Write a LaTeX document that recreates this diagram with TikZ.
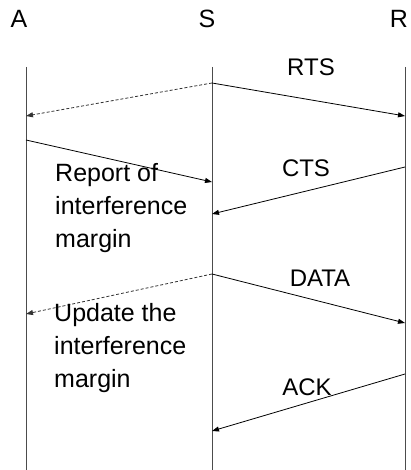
\documentclass[tikz,border=0pt]{standalone}
\usepackage{fontspec}
\setmainfont{Liberation Sans}
\usetikzlibrary{arrows.meta,positioning,calc}

\begin{document}
\begin{tikzpicture}[
  x=1pt, y=-1pt,
  >={Triangle[length=7pt,width=5pt]},
  lifeline/.style={line width=0.9pt, draw=black!70},
  msg/.style={->, line width=0.8pt, draw=black},
  overhear/.style={->, line width=0.8pt, draw=black!80, dash pattern=on 3pt off 2pt},
  station/.style={font=\fontsize{25}{28}\selectfont, inner sep=0pt, anchor=base},
  msglabel/.style={font=\fontsize{24}{28}\selectfont, inner sep=0pt, anchor=base},
  note/.style={font=\fontsize{25}{33}\selectfont, align=left, inner sep=0pt, anchor=north west}
]
  \useasboundingbox (0,0) rectangle (410,470);

  % station names
  \node[station] (A) at (19,28) {A};
  \node[station] (S) at (207,28) {S};
  \node[station] (R) at (399,28) {R};

  % lifelines
  \coordinate (A top) at (26,67);  \coordinate (A end) at (26,470);
  \coordinate (S top) at (212,67); \coordinate (S end) at (212,470);
  \coordinate (R top) at (405,67); \coordinate (R end) at (405,470);
  \draw[lifeline] (A top) -- (A end);
  \draw[lifeline] (S top) -- (S end);
  \draw[lifeline] (R top) -- (R end);

  % message end points on the lifelines
  \coordinate (s1) at (212,83);
  \coordinate (r1) at (405,116);
  \coordinate (a1) at (26,116);
  \coordinate (a2) at (26,140);
  \coordinate (s2) at (212,182);
  \coordinate (r2) at (405,167);
  \coordinate (s3) at (212,214);
  \coordinate (s4) at (212,274);
  \coordinate (r3) at (405,323);
  \coordinate (a3) at (26,314);
  \coordinate (r4) at (405,374);
  \coordinate (s5) at (212,431);

  % RTS, overheard by A
  \draw[msg] (s1) -- (r1);
  \draw[overhear] (s1) -- (a1);
  \node[msglabel] (rts) at (311,76) {RTS};

  % report from A, then CTS
  \draw[msg] (a2) -- (s2);
  \node[note] (report) at (55,163) {Report of\\interference\\margin};
  \draw[msg] (r2) -- (s3);
  \node[msglabel] (cts) at (306,177) {CTS};

  % DATA, overheard by A
  \draw[msg] (s4) -- (r3);
  \draw[overhear] (s4) -- (a3);
  \node[msglabel] (data) at (320,286) {DATA};
  \node[note] (update) at (54,303) {Update the\\interference\\margin};

  % ACK
  \draw[msg] (r4) -- (s5);
  \node[msglabel] (ack) at (307,395) {ACK};

\end{tikzpicture}
\end{document}
